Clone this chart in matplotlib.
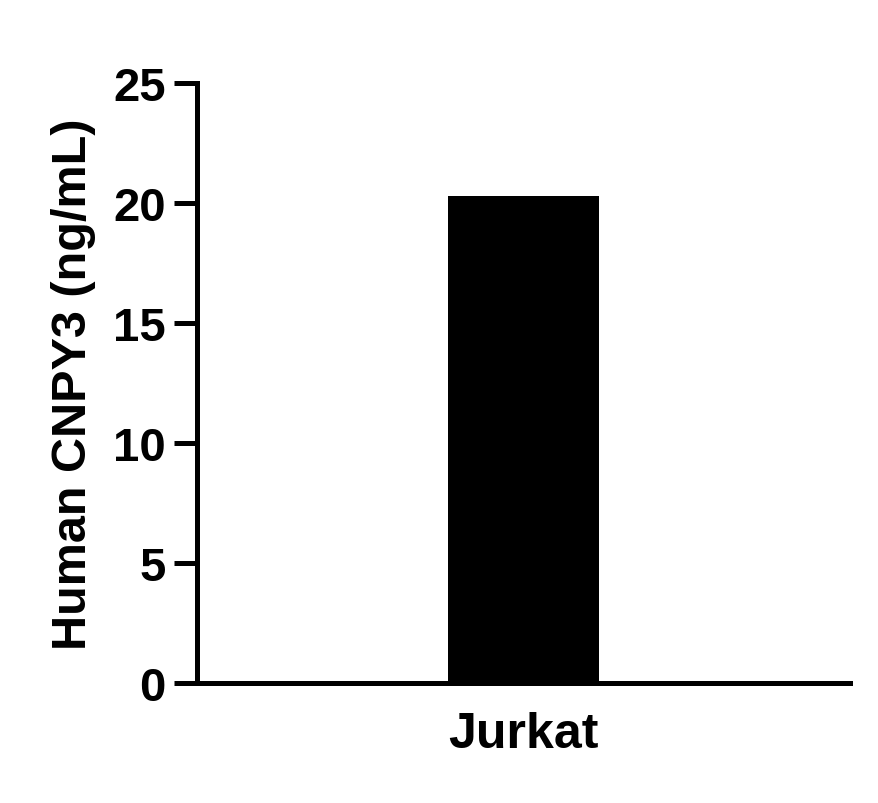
import matplotlib.pyplot as plt

# data
categories = ["Jurkat"]
values = [20.3]
yticks = [0, 5, 10, 15, 20, 25]

plt.rcParams["font.family"] = ["Liberation Sans", "DejaVu Sans"]
plt.rcParams["font.weight"] = "bold"

fig = plt.figure(figsize=(8.79, 8.04), dpi=100)
ax = fig.add_axes([0.224, 0.149, 0.743, 0.747])

ax.bar(range(len(categories)), values, width=0.46, color="black")

ax.set_xlim(-1, 1)
ax.set_ylim(0, 25)
ax.set_yticks(yticks)
ax.set_xticks(range(len(categories)))
ax.set_xticklabels(categories, fontsize=36, fontweight="bold")
ax.set_ylabel("Human CNPY3 (ng/mL)", fontsize=35, fontweight="bold", labelpad=12)

for side in ["top", "right"]:
    ax.spines[side].set_visible(False)
for side in ["left", "bottom"]:
    ax.spines[side].set_linewidth(3.6)

ax.tick_params(axis="y", length=16.5, width=3.6, labelsize=34, pad=6)
ax.tick_params(axis="x", length=0, pad=20)
for lab in ax.get_yticklabels():
    lab.set_fontweight("bold")

fig.savefig("out.png", dpi=100)
